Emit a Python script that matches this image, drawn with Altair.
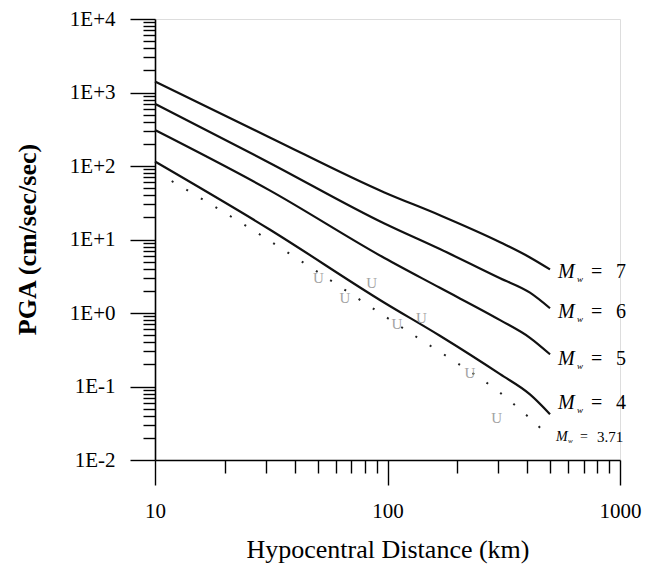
import altair as alt
import pandas as pd

# ---- data ----
dist = [10, 31, 97, 168, 305, 410, 500]
pga_mw7 = [1410, 247, 43.7, 21.4, 9.2, 5.7, 3.92]
pga_mw6 = [700, 111, 16.5, 7.4, 2.97, 1.89, 1.16]
pga_mw5 = [308, 47, 5.6, 2.2, 0.8, 0.46, 0.274]
pga_mw4 = [115, 13.8, 1.38, 0.49, 0.147, 0.078, 0.042]

dist_371 = [11.8, 28.1, 42.8, 135, 201, 298, 500]
pga_371 = [62.5, 11.8, 5.0, 0.46, 0.205, 0.087, 0.0206]

u_dist = [50.4, 65.6, 85.5, 109.7, 140, 226, 295]
u_pga = [3.02, 1.61, 2.58, 0.70, 0.86, 0.154, 0.0377]

label_mag = ["7", "6", "5", "4"]
label_y = [3.56, 1.02, 0.24, 0.0597]
label_small = ["3.71"]
label_small_y = [0.0206]
label_x = 500

x_major = [10, 100, 1000]
x_labels = ["10", "100", "1000"]
x_minor = [20, 30, 40, 50, 60, 70, 80, 90, 200, 300, 400, 500, 600, 700, 800, 900]
y_major = [0.01, 0.1, 1, 10, 100, 1000, 10000]
y_labels = ["1E-2", "1E-1", "1E+0", "1E+1", "1E+2", "1E+3", "1E+4"]
y_minor = [0.02, 0.03, 0.04, 0.05, 0.06, 0.07, 0.08, 0.09,
           0.2, 0.3, 0.4, 0.5, 0.6, 0.7, 0.8, 0.9,
           2, 3, 4, 5, 6, 7, 8, 9,
           20, 30, 40, 50, 60, 70, 80, 90,
           200, 300, 400, 500, 600, 700, 800, 900,
           2000, 3000, 4000, 5000, 6000, 7000, 8000, 9000]

# ---- tables ----
rows = []
for name, vals in [("7", pga_mw7), ("6", pga_mw6), ("5", pga_mw5), ("4", pga_mw4)]:
    for d, v in zip(dist, vals):
        rows.append({"dist": d, "pga": v, "mw": name})
lines_df = pd.DataFrame(rows)
dot_df = pd.DataFrame({"dist": dist_371, "pga": pga_371})
u_df = pd.DataFrame({"dist": u_dist, "pga": u_pga})
lab_df = pd.DataFrame({"dist": [label_x] * len(label_mag), "pga": label_y, "mag": label_mag})
lab_small_df = pd.DataFrame({"dist": [label_x], "pga": label_small_y, "mag": label_small})

SERIF = "Liberation Serif"


def label_expr(values, labels):
    expr = "''"
    for v, l in reversed(list(zip(values, labels))):
        expr = f"datum.value == {v} ? '{l}' : ({expr})"
    return expr


xs = alt.Scale(type="log", domain=[10, 1000], nice=False)
ys = alt.Scale(type="log", domain=[0.01, 10000], nice=False)

common_axis = dict(grid=False, tickColor="black", tickWidth=1.4, labelColor="black",
                   labelFont=SERIF, labelFontSize=21, titleColor="black", titleFont=SERIF)

x_major_axis = alt.Axis(values=x_major, labelExpr=label_expr(x_major, x_labels), orient="bottom",
                        tickSize=25, labelPadding=15, domainColor="black", domainWidth=1.6,
                        labelFlush=False, labelOverlap=False,
                        title="Hypocentral Distance (km)", titleFontSize=26, titleFontWeight="normal",
                        titleY=97, titleBaseline="alphabetic", **common_axis)
y_major_axis = alt.Axis(values=y_major, labelExpr=label_expr(y_major, y_labels), orient="left",
                        tickSize=25, labelPadding=15, domainColor="black", domainWidth=1.6,
                        labelFlush=False, labelOverlap=False,
                        title="PGA (cm/sec/sec)", titleFontSize=26, titleFontWeight="bold",
                        titleAngle=270, titleX=-128, titleY=220, titleBaseline="middle",
                        titleAlign="center", **common_axis)
x_minor_axis = alt.Axis(values=x_minor, orient="bottom", tickSize=13, labels=False, domain=False,
                        title=None, grid=False, tickColor="black", tickWidth=1.4)
y_minor_axis = alt.Axis(values=y_minor, orient="left", tickSize=12, labels=False, domain=False,
                        title=None, grid=False, tickColor="black", tickWidth=1.4)

main = alt.Chart(lines_df).mark_line(color="#111111", strokeWidth=2.2, interpolate="monotone").encode(
    x=alt.X("dist:Q", scale=xs, axis=x_major_axis),
    y=alt.Y("pga:Q", scale=ys, axis=y_major_axis),
    detail="mw:N",
)

minor = alt.Chart(lines_df).mark_point(opacity=0).encode(
    x=alt.X("dist:Q", scale=xs, axis=x_minor_axis),
    y=alt.Y("pga:Q", scale=ys, axis=y_minor_axis),
)

dotted = alt.Chart(dot_df).mark_line(color="#222222", strokeWidth=2, strokeDash=[2, 15],
                                     interpolate="monotone").encode(
    x=alt.X("dist:Q", scale=xs, axis=None),
    y=alt.Y("pga:Q", scale=ys, axis=None),
)

u_marks = alt.Chart(u_df).mark_text(text="U", font=SERIF, fontSize=15, color="#a3a3a3").encode(
    x=alt.X("dist:Q", scale=xs, axis=None),
    y=alt.Y("pga:Q", scale=ys, axis=None),
)


def label_layers(df, size, sub_size, num_size, dx_m, dx_w, dy_w, dx_eq, dx_num):
    base = alt.Chart(df).encode(
        x=alt.X("dist:Q", scale=xs, axis=None),
        y=alt.Y("pga:Q", scale=ys, axis=None),
    )
    m = base.mark_text(text="M", font=SERIF, fontSize=size, fontStyle="italic", align="left",
                       baseline="middle", dx=dx_m, color="black")
    w = base.mark_text(text="w", font=SERIF, fontSize=sub_size, fontStyle="italic", align="left",
                       baseline="middle", dx=dx_w, dy=dy_w, color="black")
    eq = base.mark_text(text="=", font=SERIF, fontSize=size, align="left",
                        baseline="middle", dx=dx_eq, color="black")
    num = base.mark_text(font=SERIF, fontSize=num_size, align="left", baseline="middle",
                         dx=dx_num, color="black").encode(text="mag:N")
    return [m, w, eq, num]


big = label_layers(lab_df, 20, 9, 20, 8, 27, 7, 41, 66)
small = label_layers(lab_small_df, 14, 7, 15, 6, 18, 4, 30, 47)

chart = alt.layer(main, minor, dotted, u_marks, *big, *small).resolve_axis(
    x="independent", y="independent"
).properties(
    width=465,
    height=441,
    autosize=alt.AutoSizeParams(type="none"),
    padding={"left": 147, "top": 11, "right": 33, "bottom": 104},
).configure_view(stroke=None).configure(background="white")

chart.save("out.html", embed_options={"renderer": "svg", "actions": False})
